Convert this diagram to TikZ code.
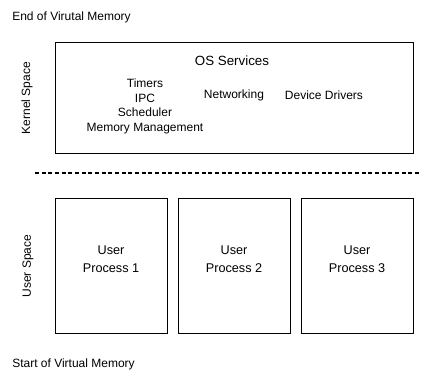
\documentclass[tikz,border=0pt]{standalone}
\usepackage{fontspec}
\setmainfont{Liberation Sans}
\begin{document}
\begin{tikzpicture}[x=0.75pt,y=-0.75pt,font=\fontsize{9}{11}\selectfont,
  box/.style={draw,line width=0.75pt,inner sep=0pt},
  proc/.style={box,minimum width=84pt,minimum height=100.5pt},
  lbl/.style={inner sep=0pt,anchor=base west}]
\useasboundingbox (0,0) rectangle (425,374);
\node[lbl](top)at(12,21){End of Virutal Memory};
\node[lbl](bot)at(12,367){Start of Virtual Memory};
\node[box,minimum width=268.5pt,minimum height=83.25pt](kernel)at(234,98.5){};
\node[rotate=90,inner sep=0pt](kspace)at(27,98){Kernel Space};
\node[inner sep=0pt,font=\fontsize{10}{12}\selectfont](os)at(232,61){OS Services};
\node[align=center,inner sep=0pt](core)at(145,106.5){Timers\\IPC\\Scheduler\\Memory Management};
\node[inner sep=0pt](net)at(234,95){Networking};
\node[inner sep=0pt](dev)at(324,95){Device Drivers};
\coordinate(splitl)at(35,173);
\coordinate(splitr)at(421,173);
\draw[line width=1.5pt,dash pattern=on 3pt off 2pt](splitl)--(splitr);
\foreach \i/\x in {1/111,2/234,3/357}{
  \node[proc](proc\i)at(\x,266){};
  \node[align=center,inner sep=0pt,font=\fontsize{9.5}{13.5}\selectfont](ptext\i)at(\x,259){User\\Process \i};}
\node[rotate=90,inner sep=0pt](uspace)at(28,266){User Space};
\end{tikzpicture}
\end{document}
